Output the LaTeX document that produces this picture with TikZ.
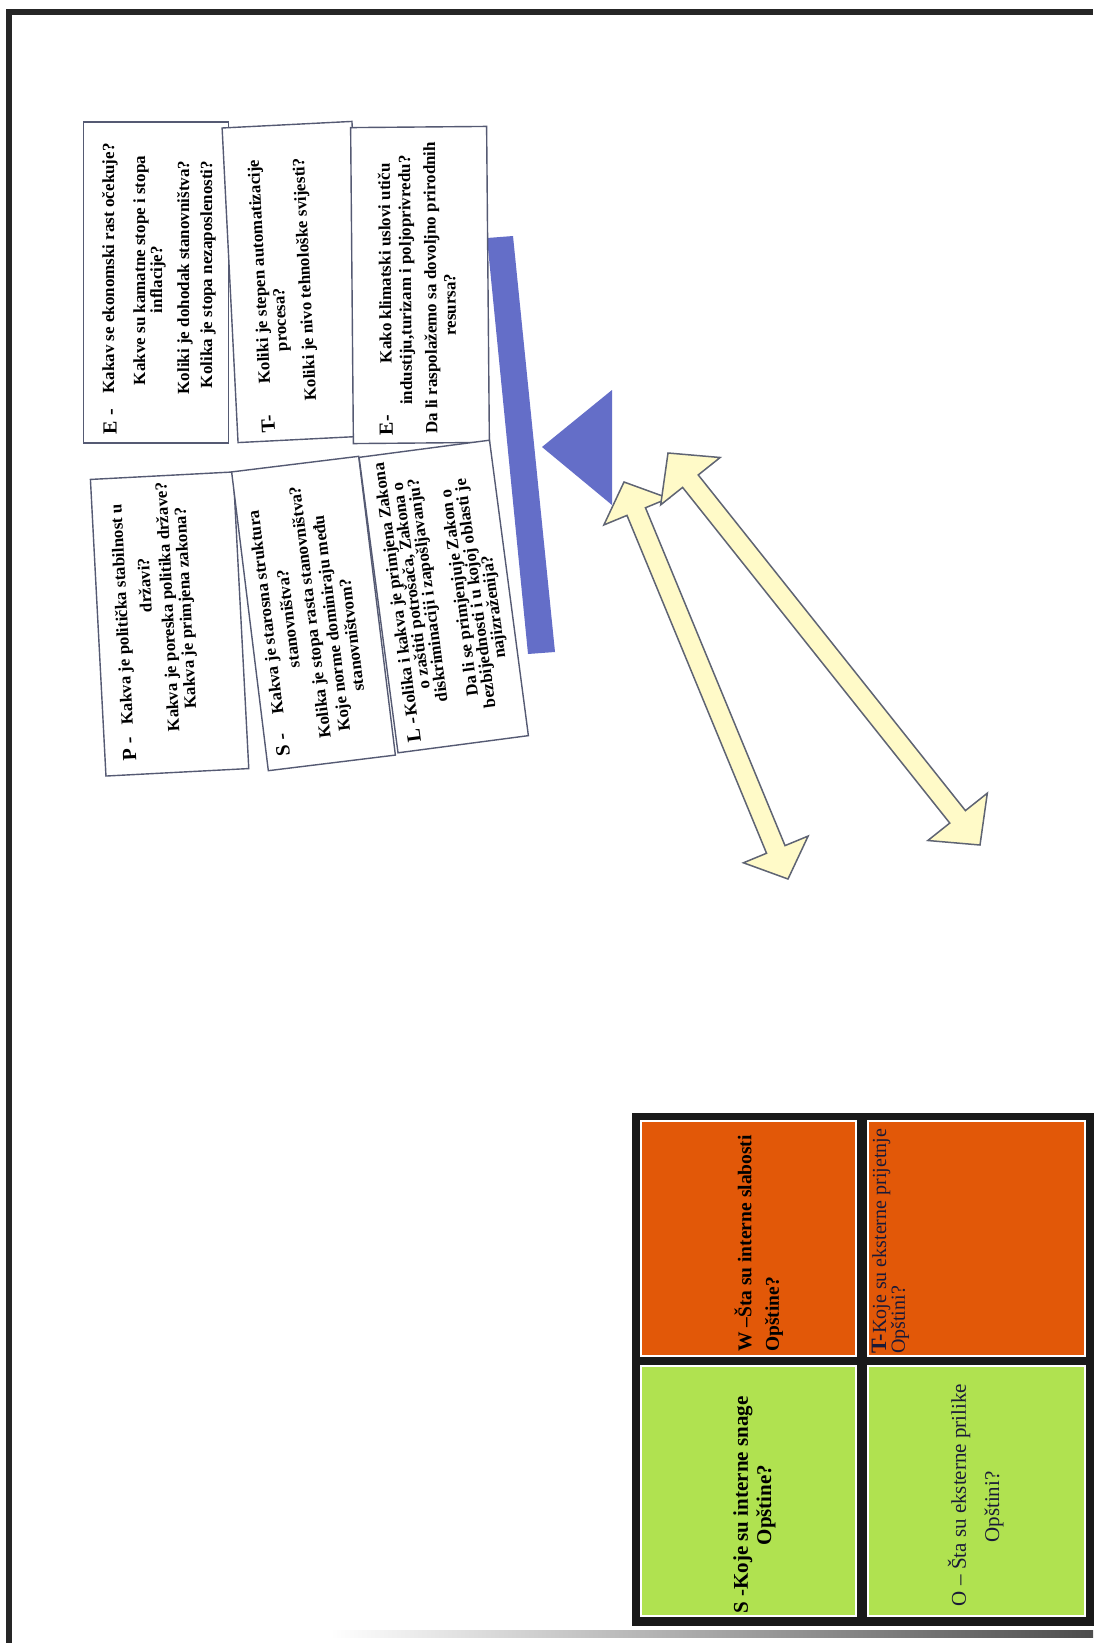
\documentclass[tikz,border=0pt]{standalone}
\usepackage{fontspec}
\setmainfont{Liberation Serif}
\usetikzlibrary{calc}
\definecolor{pblue}{RGB}{100,110,200}
\definecolor{swotorange}{RGB}{226,88,8}
\definecolor{swotgreen}{RGB}{176,226,80}
\definecolor{arrowfill}{RGB}{255,250,200}
\definecolor{arrowline}{RGB}{95,100,115}
\definecolor{boxline}{RGB}{85,90,115}
\definecolor{navytext}{RGB}{25,25,55}
\newcommand{\dblarrow}[5]{%
  \filldraw[arrowstyle] (#1) -- ($(#1)!#3!(#2)!#4!90:(#2)$) -- ($(#1)!#3!(#2)!#5!90:(#2)$)
   -- ($(#2)!#3!(#1)!#5!-90:(#1)$) -- ($(#2)!#3!(#1)!#4!-90:(#1)$) -- (#2)
   -- ($(#2)!#3!(#1)!#4!90:(#1)$) -- ($(#2)!#3!(#1)!#5!90:(#1)$)
   -- ($(#1)!#3!(#2)!#5!-90:(#2)$) -- ($(#1)!#3!(#2)!#4!-90:(#2)$) -- cycle;}
\begin{document}
\begin{tikzpicture}[x=1pt,y=-1pt,
  pestbox/.style={draw=boxline, line width=1.4pt, fill=white, inner sep=0pt},
  qline/.style={font=\fontsize{17}{17}\selectfont\bfseries, inner sep=0pt, rotate=90},
  qpre/.style={font=\fontsize{20}{20}\selectfont\bfseries, inner sep=0pt, rotate=90, anchor=west},
  arrowstyle/.style={fill=arrowfill, draw=arrowline, line width=1.5pt, line join=miter},
  cell/.style={draw=white, line width=1.5pt, inner sep=0pt},
  swotb/.style={font=\fontsize{21}{21}\selectfont\bfseries, inner sep=0pt, rotate=90},
  swotr/.style={font=\fontsize{21}{21}\selectfont, text=navytext, inner sep=0pt, rotate=90}
]
\useasboundingbox (0,0) rectangle (1093,1643);
\fill[white] (0,0) rectangle (1093,1643);
% page frame
\draw[line width=6pt, black!85] (9,1643) -- (9,12) -- (1093,12);
\shade[left color=white, right color=black!70] (330,1630) rectangle (1093,1637);

% blue bar and triangle
\fill[pblue] (487,238) -- (513,236) -- (555,652) -- (528,654) -- cycle;
\fill[pblue] (542,447) -- (612,390) -- (612,505) -- cycle;

% PEST boxes
\node[pestbox, minimum width=321pt, minimum height=145pt, rotate=90] (E1) at (156,282.5) {};
\node[pestbox, minimum width=315pt, minimum height=130pt, rotate=92.9] (T1) at (295,282) {};
\node[pestbox, minimum width=316pt, minimum height=136pt, rotate=90.5] (E2) at (420,285) {};
\node[pestbox, minimum width=297pt, minimum height=143pt, rotate=93] (P1) at (169.6,624) {};
\node[pestbox, minimum width=301pt, minimum height=128pt, rotate=97] (S1) at (313.5,613.5) {};
\node[pestbox, minimum width=298pt, minimum height=131.5pt, rotate=97.5] (L1) at (443.75,596.5) {};

\begin{scope}[shift={(E1.center)}]
  \node[qpre] at (-46,152) {E -};
  \node[qline] at (-46,-14) {Kakav se ekonomski rast očekuje?};
  \node[qline] at (-15,-12) {Kakve su kamatne stope i stopa};
  \node[qline] at (2,-3) {inflacije?};
  \node[qline] at (29,-5) {Koliki je dohodak stanovništva?};
  \node[qline] at (52,-8) {Kolika je stopa nezaposlenosti?};
\end{scope}
\begin{scope}[shift={(T1.center)}, rotate=2.9, transform shape]
  \node[qpre] at (-34,150) {T-};
  \node[qline] at (-34,-12) {Koliki je stepen automatizacije};
  \node[qline] at (-15,37) {procesa?};
  \node[qline] at (11,-2) {Koliki je nivo tehnološke svijesti?};
\end{scope}
\begin{scope}[shift={(E2.center)}, rotate=0.5, transform shape]
  \node[qpre] at (-35,150) {E-};
  \node[qline] at (-35,-22) {Kako klimatski uslovi utiču};
  \node[qline] at (-13,-5) {industiju,turizam i poljoprivredu?};
  \node[qline] at (12,3) {Da li raspolažemo sa dovoljno prirodnih};
  \node[qline] at (30,20) {resursa?};
\end{scope}
\begin{scope}[shift={(P1.center)}, rotate=3, transform shape]
  \node[qpre] at (-47,135) {P -};
  \node[qline] at (-46,-12) {Kakva je politička stabilnost u};
  \node[qline] at (-23,-40) {državi?};
  \node[qline] at (0,-17) {Kakva je poreska politika države?};
  \node[qline] at (18,-15) {Kakva je primjena zakona?};
\end{scope}
\begin{scope}[shift={(S1.center)}, rotate=7, transform shape]
  \node[qpre] at (-47,138) {S -};
  \node[qline] at (-46,-7) {Kakva je starosna struktura};
  \node[qline] at (-26,2) {stanovništva?};
  \node[qline] at (-2,-1.5) {Kolika je stopa rasta stanovništva?};
  \node[qline] at (18,12) {Koje norme dominiraju među};
  \node[qline] at (35,26) {stanovništvom?};
\end{scope}
\begin{scope}[shift={(L1.center)}, rotate=7.5, transform shape]
  \node[qpre] at (-48,141) {L -};
  \node[qline] at (-46,-13) {Kolika i kakva je primjena Zakona};
  \node[qline] at (-30,-15) {o zaštiti potrošača, Zakona o};
  \node[qline] at (-14,-8) {diskriminaciji i zapošljavanju?};
  \node[qline] at (17,-1) {Da li se primjenjuje Zakon o};
  \node[qline] at (33,1) {bezbijednosti i u kojoj oblasti je};
  \node[qline] at (49,17) {najizraženija?};
\end{scope}

% double arrows
\coordinate (a1s) at (624,482);
\coordinate (a1e) at (788,879);
\coordinate (a2s) at (668,453);
\coordinate (a2e) at (980,845);
\dblarrow{a1s}{a1e}{32pt}{35pt}{10pt}
\dblarrow{a2s}{a2e}{36pt}{38pt}{10pt}

% SWOT grid
\fill[black!90] (632,1113) rectangle (1100,1626);
\node[cell, fill=swotorange, minimum width=215pt, minimum height=235pt] (W) at (748.5,1238.5) {};
\node[cell, fill=swotgreen, minimum width=215pt, minimum height=250pt] (S) at (748.5,1491) {};
\node[cell, fill=swotorange, minimum width=217pt, minimum height=235pt] (T) at (976.5,1238.5) {};
\node[cell, fill=swotgreen, minimum width=217pt, minimum height=250pt] (O) at (976.5,1491) {};

\node[swotb, font=\fontsize{19.5}{19.5}\selectfont\bfseries, anchor=west] at (743,1352) {W –Šta su interne slabosti};
\node[swotb, font=\fontsize{19.5}{19.5}\selectfont\bfseries, anchor=west] at (774,1352) {Opštine?};
\node[swotb] at (743,1505) {S -Koje su interne snage};
\node[swotb] at (766,1505) {Opštine?};
\node[swotr, font=\fontsize{20}{20}\selectfont, anchor=west] at (881,1354) {{\fontsize{22}{22}\selectfont\bfseries T-}Koje su eksterne prijetnje};
\node[swotr, font=\fontsize{20}{20}\selectfont, anchor=west] at (900,1354) {Opštini?};
\node[swotr] at (959,1495) {O – Šta su eksterne prilike};
\node[swotr] at (994,1507) {Opštini?};
\end{tikzpicture}
\end{document}
